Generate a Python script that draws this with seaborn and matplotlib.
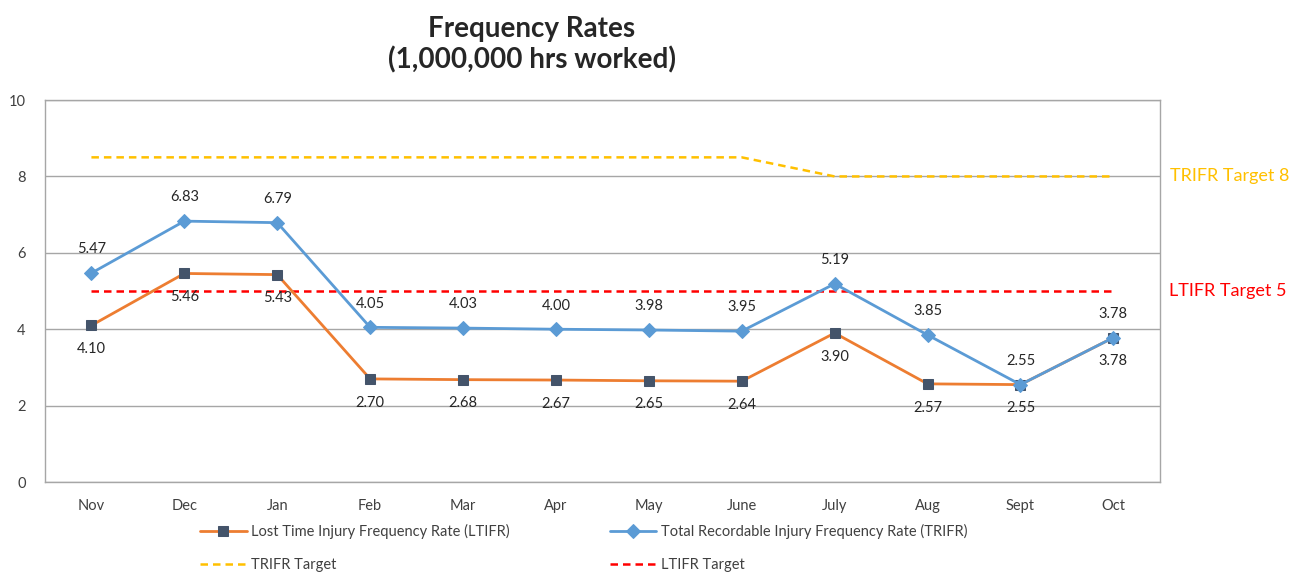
"""Frequency Rates chart (LTIFR / TRIFR vs targets)."""

import pandas as pd
import matplotlib
matplotlib.use("Agg")
import matplotlib.pyplot as plt
import seaborn as sns

months = ["Nov", "Dec", "Jan", "Feb", "Mar", "Apr", "May", "June",
          "July", "Aug", "Sept", "Oct"]
ltifr = [4.10, 5.46, 5.43, 2.70, 2.68, 2.67, 2.65, 2.64, 3.90, 2.57, 2.55, 3.78]
trifr = [5.47, 6.83, 6.79, 4.05, 4.03, 4.00, 3.98, 3.95, 5.19, 3.85, 2.55, 3.78]
trifr_target = [8.5, 8.5, 8.5, 8.5, 8.5, 8.5, 8.5, 8.5, 8, 8, 8, 8]
ltifr_target = [5] * 12

df = pd.DataFrame({
    "month": months,
    "LTIFR": ltifr,
    "TRIFR": trifr,
    "TRIFR Target": trifr_target,
    "LTIFR Target": ltifr_target,
})

sns.set_style("white")
plt.rcParams["font.family"] = ["Lato", "DejaVu Sans"]

ORANGE = "#ED7D31"
BLUE = "#5B9BD5"
NAVY = "#44546A"
GOLD = "#FFC000"
RED = "#FF0000"
GRID = "#A6A6A6"
TXT = "#404040"

fig = plt.figure(figsize=(13.07, 5.75), dpi=100)
ax = fig.add_axes([0.0344, 0.1617, 0.853, 0.6643])

sns.lineplot(data=df, x="month", y="TRIFR Target", ax=ax, color=GOLD,
             linestyle=(0, (3, 2)), linewidth=1.8, label="TRIFR Target")
sns.lineplot(data=df, x="month", y="LTIFR Target", ax=ax, color=RED,
             linestyle=(0, (3, 2)), linewidth=1.8, label="LTIFR Target")
sns.lineplot(data=df, x="month", y="LTIFR", ax=ax, color=ORANGE, linewidth=2,
             marker="s", markersize=7, markerfacecolor=NAVY,
             markeredgecolor=NAVY, label="Lost Time Injury Frequency Rate (LTIFR)")
sns.lineplot(data=df, x="month", y="TRIFR", ax=ax, color=BLUE, linewidth=2,
             marker="D", markersize=7, markerfacecolor=BLUE,
             markeredgecolor=BLUE,
             label="Total Recordable Injury Frequency Rate (TRIFR)")

# data labels: TRIFR above, LTIFR below
for i, (lt, tr) in enumerate(zip(ltifr, trifr)):
    ax.annotate(f"{tr:.2f}", (i, tr), xytext=(0, 12), textcoords="offset points",
                ha="center", va="bottom", fontsize=10.5, color="#262626")
    ax.annotate(f"{lt:.2f}", (i, lt), xytext=(0, -12), textcoords="offset points",
                ha="center", va="top", fontsize=10.5, color="#262626")

ax.set_xlim(-0.5, len(months) - 0.5)
ax.set_ylim(0, 10)
ax.set_yticks(range(0, 11, 2))
ax.set_xlabel("")
ax.set_ylabel("")
ax.grid(axis="y", color=GRID, linewidth=1)
ax.set_axisbelow(True)
for s in ax.spines.values():
    s.set_color(GRID)
    s.set_linewidth(1)
ax.tick_params(axis="both", length=0, labelsize=10.5, colors=TXT, pad=12)
ax.tick_params(axis="y", pad=14)

# target labels on the right
ax.text(1.0095, 8, "TRIFR Target 8", transform=ax.get_yaxis_transform(),
        color=GOLD, fontsize=13, va="center", ha="left")
ax.text(1.0085, 5, "LTIFR Target 5", transform=ax.get_yaxis_transform(),
        color=RED, fontsize=13, va="center", ha="left")

fig.text(0.407, 0.922, "Frequency Rates\n(1,000,000 hrs worked)", ha="center",
         va="center", fontsize=20, fontweight="bold", linespacing=1.2)

handles, labels = ax.get_legend_handles_labels()
ax.get_legend().remove()
order = [2, 0, 3, 1]
fig.legend([handles[i] for i in order], [labels[i] for i in order],
           ncol=2, frameon=False, loc="center", bbox_to_anchor=(0.4465, 0.047),
           fontsize=10.5, handlelength=3.2, columnspacing=6.85, labelspacing=1.3,
           handletextpad=0.3, labelcolor=TXT)

fig.savefig("out.png", dpi=100)
